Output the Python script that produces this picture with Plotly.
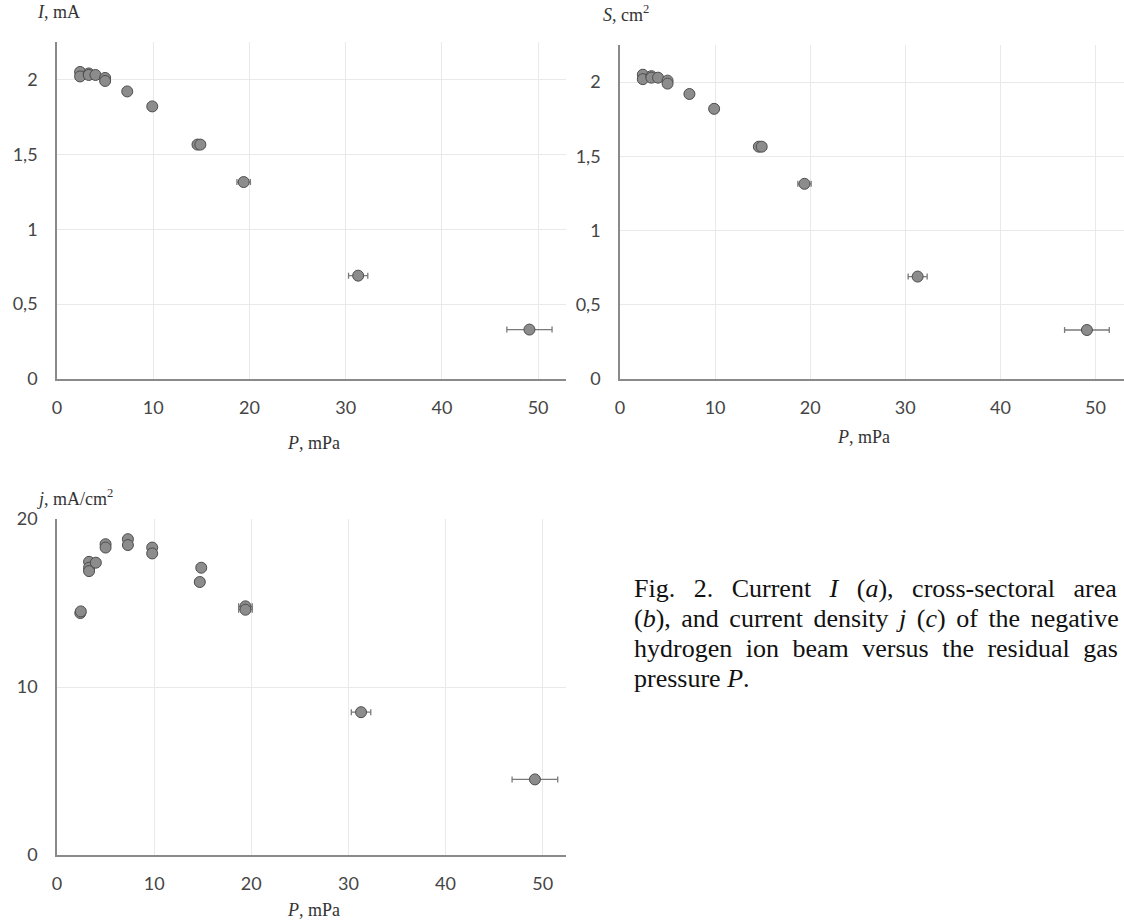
import plotly.graph_objects as go

# ---------------- data ----------------
P_top = [2.4, 2.4, 3.3, 3.3, 4.0, 5.0, 5.0, 7.3, 9.9, 14.6, 14.9, 19.4, 31.3, 49.1]
P_top_err = [0.1, 0.1, 0.15, 0.15, 0.2, 0.25, 0.25, 0.3, 0.4, 0.45, 0.45, 0.7, 1.0, 2.35]
I_mA = [2.05, 2.02, 2.04, 2.03, 2.03, 2.01, 1.99, 1.92, 1.82, 1.565, 1.565, 1.315, 0.69, 0.33]
S_cm2 = [2.05, 2.02, 2.04, 2.03, 2.03, 2.01, 1.99, 1.92, 1.82, 1.565, 1.565, 1.315, 0.69, 0.33]

P_j = [2.4, 2.45, 3.3, 3.3, 3.3, 4.0, 5.0, 5.0, 7.3, 7.3, 9.8, 9.8, 14.7, 14.85, 19.4, 19.4, 31.3, 49.2]
P_j_err = [0.1, 0.1, 0.15, 0.15, 0.15, 0.2, 0.25, 0.25, 0.3, 0.3, 0.4, 0.4, 0.45, 0.45, 0.7, 0.7, 1.0, 2.35]
j_mAcm2 = [14.4, 14.5, 17.45, 17.1, 16.9, 17.4, 18.5, 18.3, 18.8, 18.45, 18.3, 17.95, 16.25, 17.1, 14.8, 14.6, 8.5, 4.5]

x_ticks = [0, 10, 20, 30, 40, 50]
x_ticktext = ["0", "10", "20", "30", "40", "50"]
ab_ticks = [0, 0.5, 1, 1.5, 2]
ab_ticktext = ["0", "0,5", "1", "1,5", "2"]
c_ticks = [0, 10, 20]
c_ticktext = ["0", "10", "20"]

caption_lines = [
    "Fig. 2. Current <i>I</i> (<i>a</i>), cross-sectoral area",
    "(<i>b</i>), and current density <i>j</i> (<i>c</i>) of the negative",
    "hydrogen ion beam versus the residual gas",
    "pressure <i>P</i>.",
]
caption_word_spacing = [12, 4, 7, 0]

# ---------------- figure ----------------
W, H = 1124, 922
def fx(px):
    return px / W
def fy(py):
    return 1 - py / H

MARK = dict(size=11, color="#8c8c8c", line=dict(color="#4d4d4d", width=1))
ERR_COLOR = "#7a7a7a"

fig = go.Figure()
for xs, xe, ys, xa, ya in [
    (P_top, P_top_err, I_mA, "x", "y"),
    (P_top, P_top_err, S_cm2, "x2", "y2"),
    (P_j, P_j_err, j_mAcm2, "x3", "y3"),
]:
    fig.add_trace(go.Scatter(
        x=xs, y=ys, mode="markers", marker=MARK,
        error_x=dict(type="data", array=xe, color=ERR_COLOR, thickness=1.3, width=3),
        xaxis=xa, yaxis=ya, showlegend=False, hoverinfo="x+y",
    ))

tickfont = dict(family="Lato, 'Open Sans', sans-serif", size=18, color="#454545")
grid = "#e9e9e9"
axline = "#8a8a8a"

def xaxis(domain, rng, anchor):
    return dict(domain=domain, range=rng, anchor=anchor, tickvals=x_ticks, ticktext=x_ticktext,
                showgrid=True, gridcolor=grid, gridwidth=1, zeroline=False,
                showline=True, linecolor=axline, linewidth=1.5, ticks="",
                tickfont=tickfont, ticklabelstandoff=12, fixedrange=True, automargin=False)

def yaxis(domain, rng, anchor, tv, tt):
    return dict(domain=domain, range=rng, anchor=anchor, tickvals=tv, ticktext=tt,
                showgrid=True, gridcolor=grid, gridwidth=1, zeroline=False,
                showline=True, linecolor=axline, linewidth=1.5, ticks="",
                tickfont=tickfont, ticklabelstandoff=14, fixedrange=True, automargin=False)

fig.update_layout(
    width=W, height=H, margin=dict(l=0, r=0, t=0, b=0, pad=0, autoexpand=False),
    paper_bgcolor="white", plot_bgcolor="white",
    xaxis=xaxis([fx(57), fx(566)], [0, 52.9], "y"),
    yaxis=yaxis([fy(379), fy(42)], [0, 2.25], "x", ab_ticks, ab_ticktext),
    xaxis2=xaxis([fx(620), 1.0], [0, 53.0], "y2"),
    yaxis2=yaxis([fy(379), fy(45)], [0, 2.25], "x2", ab_ticks, ab_ticktext),
    xaxis3=xaxis([fx(57), fx(566)], [0, 52.4], "y3"),
    yaxis3=yaxis([fy(855), fy(519)], [0, 20], "x3", c_ticks, c_ticktext),
)

serif = "'Liberation Serif', 'Times New Roman', serif"
title_font = dict(family=serif, size=18, color="#333333")
ann = []
def add_text(text, x, y, xanchor="left", font=title_font, yanchor="middle"):
    ann.append(dict(text=text, x=fx(x), y=fy(y), xref="paper", yref="paper",
                    xanchor=xanchor, yanchor=yanchor, showarrow=False, font=font))

add_text("<i>I</i>, mA", 35, 12)
add_text("<i>S</i>, cm<sup>2</sup>", 601, 14)
add_text("<i>j</i>, mA/cm<sup>2</sup>", 35, 497)
add_text("<i>P</i>, mPa", 313, 443, "center")
add_text("<i>P</i>, mPa", 863, 437, "center")
add_text("<i>P</i>, mPa", 313, 910, "center")

cap_font = dict(family=serif, size=26, color="#111111")
for k, line in enumerate(caption_lines):
    ws = caption_word_spacing[k]
    txt = f'<span style="word-spacing:{ws}px">{line}</span>' if ws else line
    add_text(txt, 632, 588 + 30 * k, "left", cap_font)

fig.update_layout(annotations=ann)
fig.write_html("out.html")
